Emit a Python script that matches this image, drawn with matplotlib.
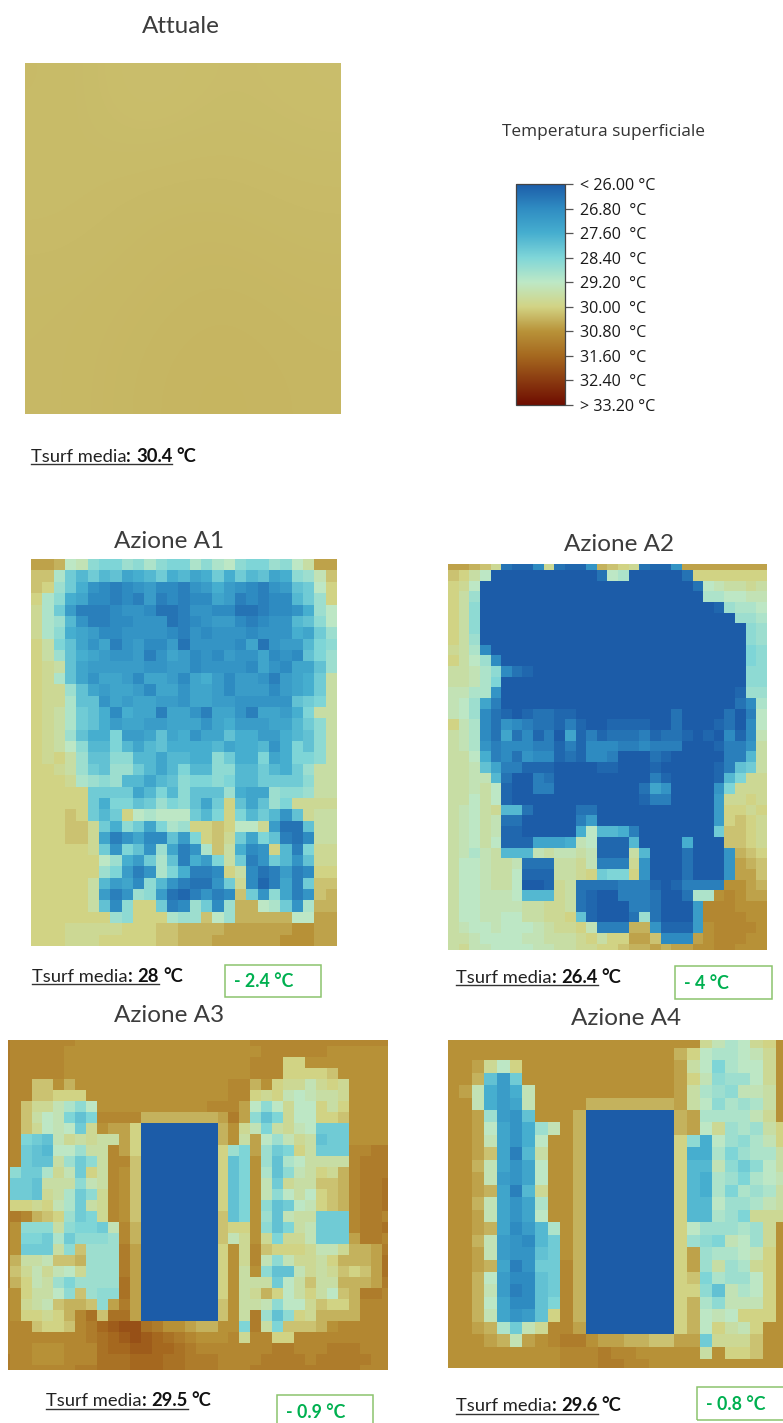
import numpy as np
import matplotlib
matplotlib.use("Agg")
import matplotlib.pyplot as plt
from matplotlib.colors import LinearSegmentedColormap, Normalize
from matplotlib.cm import ScalarMappable
from matplotlib.patches import Rectangle
from matplotlib.lines import Line2D

W, H = 783, 1423

# Temperature code: each letter is one 0.2 degree step from 26.0
LEVELS = "ABCDEFGHIJKLMNOPQRSTUVWXYZabcdefghijkl"
COLORBAR_TICKS = [26.0, 26.8, 27.6, 28.4, 29.2, 30.0, 30.8, 31.6, 32.4, 33.2]
COLORBAR_COLORS = ["#1c5ca8", "#2f8cc2", "#46aecf", "#7fd6d8", "#bde8c6",
                   "#d2d384", "#b89238", "#a5681f", "#8a3a10", "#6e0c00"]
COLORBAR_LABELS = ["< 26.00 °C", "26.80  °C", "27.60  °C", "28.40  °C", "29.20  °C",
                   "30.00  °C", "30.80  °C", "31.60  °C", "32.40  °C", "> 33.20 °C"]

ATTUALE = [[30.30, 30.24, 30.28, 30.26],
           [30.28, 30.32, 30.32, 30.30],
           [30.32, 30.33, 30.35, 30.33],
           [30.32, 30.35, 30.38, 30.35]]

AZIONE_A1 = [
"XXWQRNMMONPNMMPNPQNMMONQSXX",
"VVPLJLJKHIJLIJHILILJKHINORV",
"VUOLIFEDEFGEEDFGIGFEDFGKLQU",
"UPNIHEEDEDGDEDEEHGDEDEEJLOU",
"TPLGDDDEFFECCDFFEECCDEEFIOQ",
"TPOJFDDEEFFFCDEFGGEDEFFJKNQ",
"TPNIHGEEFFFFEDFEFFFEFFFIHLO",
"USMKHFHDFGEEGCFFFFEHCFGGJMN",
"USOKIHGFFGDFHGEFEGFFHEFEKMO",
"UTSKHGGGGGFFGGEFFFFEHFEHHKO",
"UTPKHFHHGEHHGEHIGEGGFDGHILS",
"UTTOKHGHHGEHHFHHGEGGGEGHILS",
"UTTPKKFHGHHGGFHHGGFFFFFKLMS",
"UTSPLKIEIHHDHHFDHHFDHHGIMSS",
"UTSPLKIGHHGGHHHFHIGGGHHJLNS",
"UTSOKIIMGGHKHIFHHKIIGGIJKNS",
"UTSQNJJMJHJKIIIIJHIIJFIMKNS",
"UTUSOKKNNJJHJJIINLIIMHIMMNS",
"UUTSOLKOOLJHJMJJNNJJLJILOSS",
"UUUTPONOJJHJKNMMNMJJLLLLNSS",
"UUUUULLLLHJMJNKKKOIHHONNOSS",
"UUUUULIMMKLOMNKHLUKHKOMTTTT",
"UUUVULJLUQPQQQLJMUMJLJFKTSS",
"UUUVVTLINLHMPOUUVUQQTGCCKSS",
"UUUVVTHDFHEEKGMUVTLHMKDCESS",
"UUUUUTLFMKFOHDFPVSIEFUJDMTT",
"UUUUUUQOIGLPKDIGMSLDFLJFKTT",
"UUUUUUOMGDFPMIDDEUSECDGDEUU",
"UUUUUSJGHENJFDCCFLTEBDHDLVV",
"UUUUUSGDFONGCBDFDEVLFNHDFVW",
"UUUUUSKENUULDEOLEOWWQPLFPWW",
"UUUUUUUONUUUPOOVQOWWWWWQQXX",
"UUUTTTTTUUUVVWWWWXXXXXXYYXX",
"UUUTTTUUUUUVVWWWXXXXXXYYYXX",
]

AZIONE_A2 = [
"XXWVTCBBETCBBFWVUTCBBFXXXXXXXX",
"VUSQAAAAAAAAAACQPAAAAACUUUUUUU",
"UTQAAAAAAAAAAAAAAAAAAAACQRSSTS",
"USOAAAAAAAAAAAAAAAAAAAAAPPQQRR",
"USNAAAAAAAAAAAAAAAAAAAAAABOPPQ",
"USNAAAAAAAAAAAAAAAAAAAAAAAAOOP",
"USNAAAAAAAAAAAAAAAAAAAAAAAAANO",
"USOAAAAAAAAAAAAAAAAAAAAAAAAANO",
"TSPEAAAAAAAAAAAAAAAAAAAAAAAAMN",
"USQOEAAAAAAAAAAAAAAAAAAAAAAAMN",
"SSRPNECBAAAAAAAAAAAAAAAAAAAANN",
"SSRPMAAAAAAAAAAAAAAAAAAAAAAANN",
"RRPPFAAAAAAAAAAAAAAAAAAAAAABOO",
"RQOHDAAAAAAAAAAAAAAAAAAAAAACEP",
"RQOECBABCCBBAAAAAAAAACAAAACADQ",
"URPECFEDCCBDBAABBBBAACAAABCAEQ",
"SRPECHCEBDAHBDBCCCDBCCBABAEBER",
"SRPFDEEEDDBDBEEEDDEDDDAAABDDFS",
"SSQIDECFEEBCBEEDAAACBAAAAADDJS",
"SSRKHDDBBBAAAABBAAABAAAAABDKLS",
"SSRRJCAADCAAAAAAAAADBAAAABJMTT",
"SSRSQBAADDAAAAAAAACHFAAAAFMTTT",
"SSQSQBAAAAAAAAAAAABDDAAAAGTTUT",
"SRQSTJJCAAAACCAAAAAAAAAAAGUUTU",
"SRQSRCCAAAAADGAAAAAAAAAAAGUVUT",
"SRQSRBBAAAAAIQJJIDAAAAAAALVVUT",
"SRQSQBBBHHHIRQBBBJAAAAIAAAVVUT",
"SRPRSJJJRSRRSRBBBSJAAACAAAFWVU",
"SQQRSSRCCCSSTRDDDTFAAACAAAFXWV",
"SQQRSSQBBBSSTULMMUFAAACAAAFXXV",
"SQQRSSQAABTSCCCCDDDBABDDDDYYXW",
"SQQRRRQJJJTSCBAADDDCAACPPYZYXX",
"SQQRRRRSSTTSCBAAADDCAAAGZZZYYY",
"SQQRRQQSSTTUKBAAACOCAAAGZZZZYY",
"SRQQRQQQRSTTURDDDWWFBBBGYZZZZY",
"SSRQQQQRRSSSTUSUUXXVEEEXYZZZYY",
"STRRQQQQRRSSTTUUVWWXWXXYYZZYYY",
]

AZIONE_A3 = [
"aZZZZZZYYYYYYYYYYYYYYYYZZZZZZZZZZZZZ",
"aZZZZZYYYYYYYYYYYYYYYYYYZZZZZZYYYYYY",
"aZZZZZYYYYYYYYYYYYYYYYYZZZUUYYYYYYYY",
"aZZZZZYYYYYYYYYYYYYYYYYZZZUUUUVYYYYY",
"aZZVVYWYYYYYYYYYYYYYYZZWYUTTRTUTYYYY",
"aZZVVUUUYYYYYYYYYYYYYZZUTURQRSSTYYYY",
"aZVTTRPNQYYYYYYYYYYZZZXQNQTQQUSUYYYY",
"aZVSQRMKMZZZZWWWWWWWXaXNKMTQQUUVYYYY",
"aZVTQRQLTYXXUAAAAAAAWYTRMSTRQLLLYYYY",
"aZMLKRTSTSSXUAAAAAAAWYSXQORTSKLLYYYY",
"aZLKJQQOSSZXUAAAAAAAUOMXOLMUSLLLZZaa",
"aZLKKSOLNSZZVAAAAAAAUKMYOKPQSSSSZaaa",
"aNLLPTRLUSZYVAAAAAAAUKMYPKNRSUTWZaaa",
"aLLKSSSNRSZYVAAAAAAAUKMYRLTSSVVWZaab",
"aLLKTSPLNTZYVAAAAAAAUKMYRNQSQUVWZaab",
"aUUTURPLSTZYVAAAAAAAUKMYNKLQRUVWZaab",
"aaZWVUOLMTZYVAAAAAAAVKMYOKRSSLLLZaaZ",
"aYNNNSNMMLRZWAAAAAAAVUUYNKMSRLLLZaab",
"aYMMLPLNNNOZWAAAAAAAVRTYTMTTRLLLXaaZ",
"aYLLLSNVOOOaXAAAAAAAUYTZVUUUTRRTWWXa",
"aWSSRVVWOOOaXAAAAAAAUYTZRNRTTSUWWWXb",
"aVTRTRQTOOOaXAAAAAAAUYSYNKKRTSTVUVXb",
"aWURSOMOOOObXAAAAAAAUYSSSLQSVSSWWWXa",
"ZYUSSQNVONNbXAAAAAAAUYSTWUQSUSQVWaaZ",
"ZYTSRVWWVNXaXAAAAAAAVYSSRNQQTVUUWZZZ",
"ZYUUTUWZbVbbXAAAAAAAVYSaOKNUTWWWWZZZ",
"ZZZVUUVZacdeebaYYXWWYYMaSMVVVWYZZZZZ",
"ZZZZZZZZabcdedcbaZYYYZTZZUUZZZZZZZZZ",
"ZZZYYYZZZbccddccbaZZZZZZZaaZZZaaaZZZ",
"aZZYYYZZZbbbcccbbaaaZZZZaaaaZaaaaaZZ",
"aZZZZZZaabbbcccbbaaaZZZaaaaaaaaaaZZZ",
]

AZIONE_A4 = [
"YYYYYYYYYYYYYYYYYYYYTRPQTUY",
"YYYYYYYYYYYYYYYYYYWUQPPQRTY",
"YYXTQUYYYYYYYYYYYYXSQMPQQTY",
"YYWKGLYYYYYYYYYYYYXURNOOQTY",
"YXRIGIRYYYYYYYYYYYXSPONRRSY",
"YYRIGHRYYYYWWWWWWWXSQNPOPSY",
"YYXOGFKYYYWAAAAAAAWXPPPPRTY",
"YYXQHFIORYWAAAAAAAWXQTOPOSU",
"YYXRHFIQYYWAAAAAAAUNIQONPRU",
"YYXVHDJSYYWAAAAAAAUIIPMOPPS",
"YYWRHFHQYYWAAAAAAAUJJRNLNQS",
"YYXRGFHQYYWAAAAAAAUJIPOMPQR",
"YYXWHDJTYYWAAAAAAAUJIPMPOPS",
"YYWRHFHPYYWAAAAAAAUJJQOOPRS",
"YYXRHFHQYYWAAAAAAAUJJPOMTTT",
"YYXWHEGJPYWAAAAAAAUQOOOPOTY",
"YYWRGFEJLYWAAAAAAAUONMRQOTY",
"YYXRGFFKLYWAAAAAAAUXOPPQRUY",
"YYXWHDFLLZWAAAAAAAUXOSOPTUY",
"YYWQGEEKLZWAAAAAAAUVMPOOQUY",
"YYWRGDEKLZWAAAAAAAUUNKRPQUY",
"YYWQHEEKMZWAAAAAAAUWPNRRRUY",
"YYWRHFGKUZWAAAAAAAUWQRQUUUY",
"YYXWPLRTZZXAAAAAAAUWQUSRUYY",
"YYYXWRXYZaaYXXWWVVXXLTTTVYY",
"YYYYYYYYYZZZaZZYYYYYSYUUVYY",
"YYYYYYYYYZZZaaZZYYYYYYYYYYY",
]

TITLES = ["Attuale", "Azione A1", "Azione A2", "Azione A3", "Azione A4"]
TSURF_VALUES = ["30.4", "28", "26.4", "29.5", "29.6"]
DELTA_LABELS = ["- 2.4 °C", "- 4 °C", "- 0.9 °C", "- 0.8 °C"]

cmap = LinearSegmentedColormap.from_list(
    "tsurf",
    [((t - COLORBAR_TICKS[0]) / (COLORBAR_TICKS[-1] - COLORBAR_TICKS[0]), c)
     for t, c in zip(COLORBAR_TICKS, COLORBAR_COLORS)], N=2048)
norm = Normalize(COLORBAR_TICKS[0], COLORBAR_TICKS[-1])


def decode(rows):
    n = max(len(r) for r in rows)
    rows = [r.ljust(n, r[-1])[:n] for r in rows]
    return np.array([[26.0 + 0.2 * LEVELS.index(c) for c in r] for r in rows])


fig = plt.figure(figsize=(W / 100, H / 100), dpi=100, facecolor="white")


def px_axes(x0, y0, x1, y1):
    ax = fig.add_axes([x0 / W, 1 - y1 / H, (x1 - x0) / W, (y1 - y0) / H])
    ax.set_axis_off()
    return ax


def heat(grid, box, crop=(0, 0, 0, 0), interp="nearest"):
    ax = px_axes(*box)
    g = np.asarray(grid)
    ax.imshow(g, cmap=cmap, norm=norm, aspect="auto", interpolation=interp)
    nr, nc = g.shape
    ax.set_xlim(-0.5 + crop[0], nc - 0.5 - crop[1])
    ax.set_ylim(nr - 0.5 - crop[3], -0.5 + crop[2])
    return ax


heat(ATTUALE, (25, 63, 341, 414), interp="bicubic")
heat(decode(AZIONE_A1), (31, 559.3, 337, 946))
heat(decode(AZIONE_A2), (448.3, 564.3, 767.3, 950), crop=(0, 0, 0.44, 0.4))
heat(decode(AZIONE_A3), (8.3, 1039.7, 388.3, 1370), crop=(0.85, 0.42, 0.36, 0.55))
heat(decode(AZIONE_A4), (448.3, 1040.3, 783, 1367.7), crop=(0.13, 0.42, 0.38, 0.3))

# Colour bar
cax = fig.add_axes([516 / W, 1 - 405 / H, 49 / W, 221 / H])
cb = fig.colorbar(ScalarMappable(norm=norm, cmap=cmap), cax=cax, ticks=COLORBAR_TICKS)
cax.invert_yaxis()
cb.ax.set_yticklabels(COLORBAR_LABELS, family="Open Sans", fontsize=11.6, color="#1a1a1a")
cb.ax.tick_params(length=6, width=0.9, color="#555555", pad=5)
cb.outline.set_edgecolor("#444444")
cb.outline.set_linewidth(0.9)

TITLE_FONT = dict(family="Lato", fontsize=17.5, color="#3c3c3c", ha="center", va="baseline")


def put(x, y, s, **kw):
    return fig.text(x / W, 1 - y / H, s, **kw)


for s, (x, y) in zip(TITLES, [(181, 32.7), (169, 548), (619, 551), (169, 1021.7), (626, 1025)]):
    put(x, y, s, **TITLE_FONT)

put(604, 136, "Temperatura superficiale", family="Open Sans", fontsize=12.4, color="#333333",
    ha="center", va="baseline")

renderer = fig.canvas.get_renderer()
LABEL_SIZE = 13.2


def tsurf(x, y, value):
    cur = x
    t = put(cur, y, "Tsurf media", family="Lato", fontsize=LABEL_SIZE, color="#222222", va="baseline")
    cur += t.get_window_extent(renderer).width
    t = put(cur, y, ":", family="Lato", fontsize=LABEL_SIZE, fontweight="bold", color="#111111", va="baseline")
    cur += t.get_window_extent(renderer).width + 5
    t = put(cur, y, value, family="Lato", fontsize=LABEL_SIZE, fontweight="bold", color="#111111", va="baseline")
    cur += t.get_window_extent(renderer).width
    fig.add_artist(Line2D([x / W, cur / W], [1 - (y + 2.4) / H] * 2, color="#333333", lw=1.0,
                          transform=fig.transFigure))
    put(cur + 4, y, "°C", family="Lato", fontsize=LABEL_SIZE, fontweight="bold", color="#111111", va="baseline")


for v, (x, y) in zip(TSURF_VALUES, [(30.7, 461.7), (32.3, 981.7), (456, 982.7), (46, 1406.3), (456, 1411.3)]):
    tsurf(x, y, v)

BOXES = [(224.7, 964.7, 321.3, 996.7), (675, 965.7, 772.3, 999),
         (276.7, 1394.7, 373.3, 1430), (696.7, 1387.3, 800, 1420)]
TEXT_POS = [(234, 987), (684.3, 989), (286, 1418), (706, 1410.3)]
for s, b, (x, y) in zip(DELTA_LABELS, BOXES, TEXT_POS):
    fig.add_artist(Rectangle((b[0] / W, 1 - b[3] / H), (b[2] - b[0]) / W, (b[3] - b[1]) / H,
                             transform=fig.transFigure, fill=False, edgecolor="#8cc46e", lw=1.1))
    put(x, y, s, family="Lato", fontsize=12.8, fontweight="bold", color="#00b050", va="baseline")

fig.savefig("out.png", dpi=100, facecolor="white")
